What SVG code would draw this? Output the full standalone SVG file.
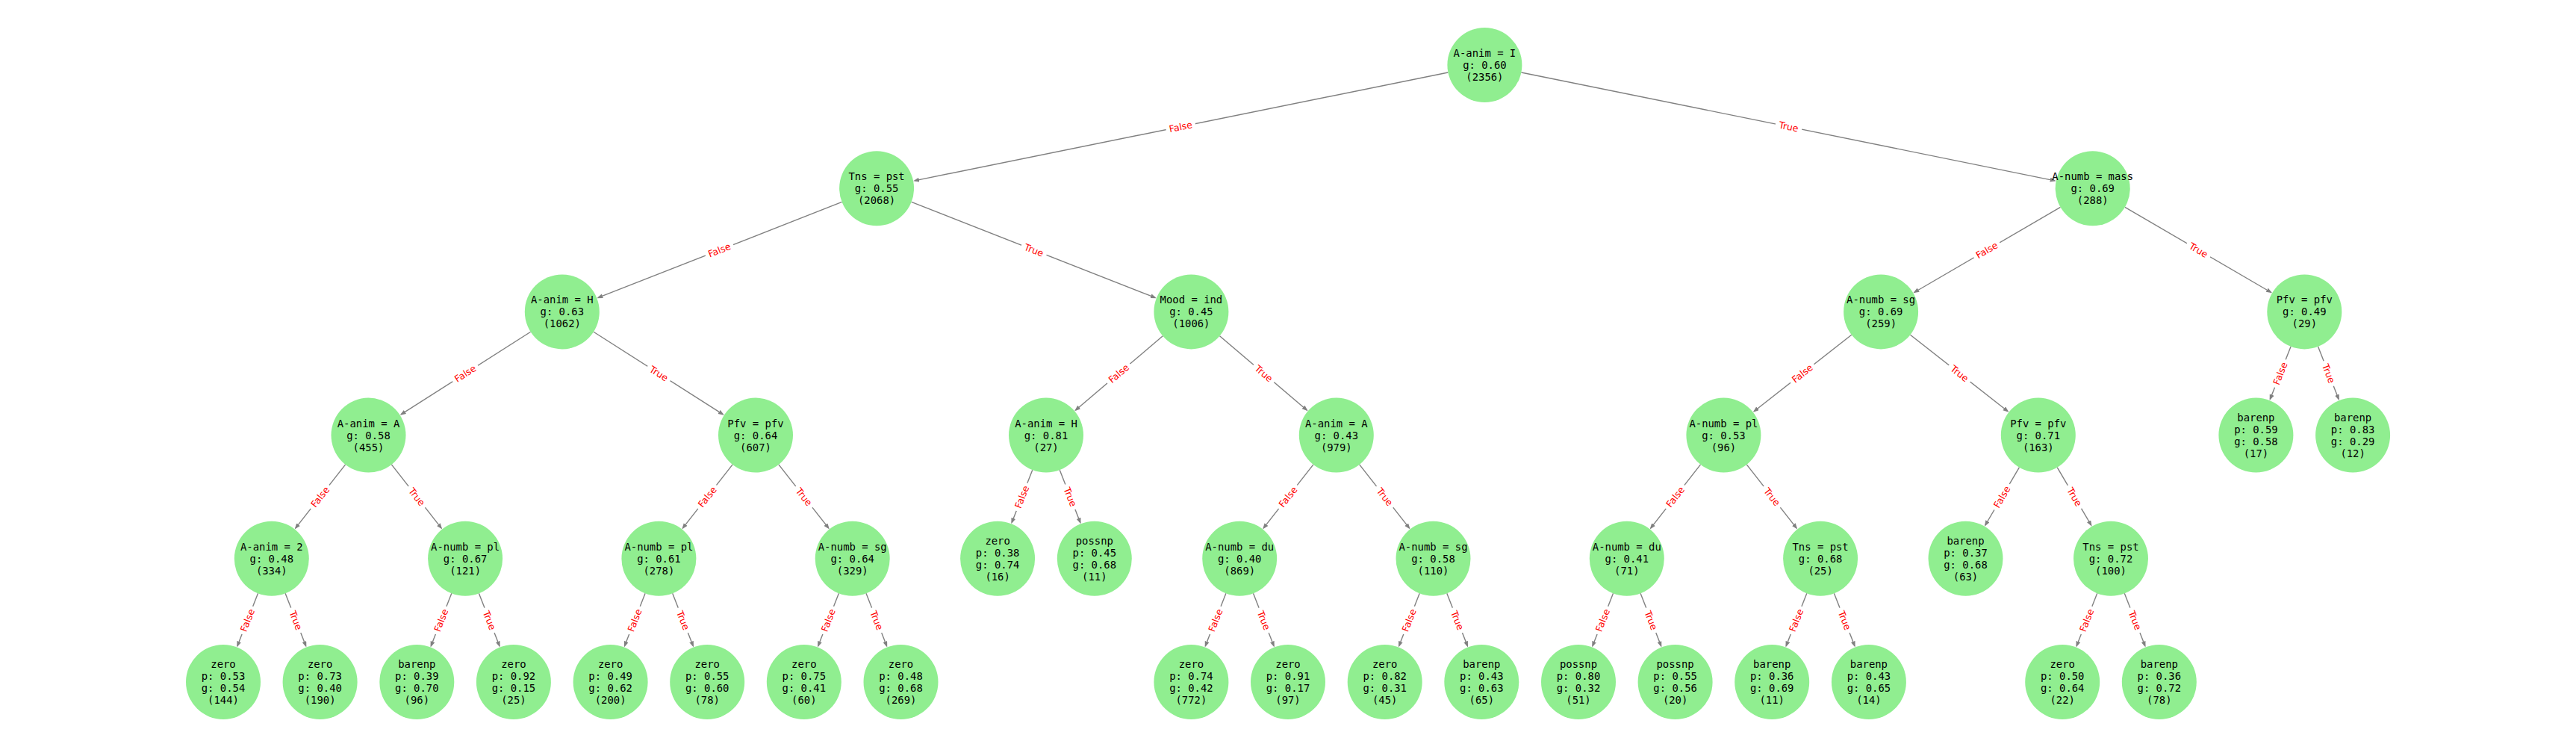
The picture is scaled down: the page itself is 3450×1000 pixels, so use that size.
<svg xmlns="http://www.w3.org/2000/svg" width="3450" height="1000" viewBox="0 0 3450 1000">
<style>
.bg{fill:#ffffff}
.node circle{fill:#90ee90}
.node text{font-family:"DejaVu Sans Mono","Liberation Mono",monospace;font-size:13.9px;fill:#000;text-anchor:middle;dominant-baseline:central}
.edge line{stroke:#808080;stroke-width:1.4;fill:none;marker-end:url(#arr)}
.lbl text{font-family:"DejaVu Sans","Liberation Sans",sans-serif;font-size:12.5px;fill:#ff0000;text-anchor:middle;dominant-baseline:central}
</style>
<defs>
<marker id="arr" markerUnits="userSpaceOnUse" markerWidth="9" markerHeight="7" refX="6" refY="3" orient="auto"><path d="M0,0 L8,3 L0,6 z" fill="#808080"/></marker>
<rect id="bf" x="-20" y="-10" width="40" height="20" rx="4" fill="#ffffff"/>
<rect id="bt" x="-18" y="-10" width="36" height="20" rx="4" fill="#ffffff"/>
</defs>
<rect class="bg" x="0" y="0" width="3450" height="1000"/>
<g id="connectors">
<g class="edge"><line x1="1939.40" y1="96.94" x2="1225.06" y2="241.86"/><g class="lbl" transform="translate(1581.25,169.6) rotate(-11.47)"><use href="#bf"/><text>False</text></g></g>
<g class="edge"><line x1="2037.40" y1="96.94" x2="2751.74" y2="241.86"/><g class="lbl" transform="translate(2395.55,169.6) rotate(11.47)"><use href="#bt"/><text>True</text></g></g>
<g class="edge"><line x1="1127.55" y1="270.45" x2="801.21" y2="398.42"/><g class="lbl" transform="translate(963.45,334.8) rotate(-21.41)"><use href="#bf"/><text>False</text></g></g>
<g class="edge"><line x1="1220.65" y1="270.45" x2="1546.99" y2="398.42"/><g class="lbl" transform="translate(1384.75,334.8) rotate(21.41)"><use href="#bt"/><text>True</text></g></g>
<g class="edge"><line x1="2759.50" y1="277.37" x2="2564.03" y2="391.23"/><g class="lbl" transform="translate(2660.9,334.8) rotate(-30.22)"><use href="#bf"/><text>False</text></g></g>
<g class="edge"><line x1="2845.90" y1="277.37" x2="3041.37" y2="391.23"/><g class="lbl" transform="translate(2944.5,334.8) rotate(30.22)"><use href="#bt"/><text>True</text></g></g>
<g class="edge"><line x1="710.63" y1="444.27" x2="537.36" y2="554.66"/><g class="lbl" transform="translate(623.15,500) rotate(-32.5)"><use href="#bf"/><text>False</text></g></g>
<g class="edge"><line x1="794.97" y1="444.27" x2="968.14" y2="554.66"/><g class="lbl" transform="translate(882.4,500) rotate(32.5)"><use href="#bt"/><text>True</text></g></g>
<g class="edge"><line x1="1557.30" y1="449.78" x2="1440.63" y2="548.93"/><g class="lbl" transform="translate(1498.2,500) rotate(-40.36)"><use href="#bf"/><text>False</text></g></g>
<g class="edge"><line x1="1633.50" y1="449.78" x2="1750.17" y2="548.93"/><g class="lbl" transform="translate(1692.6,500) rotate(40.36)"><use href="#bt"/><text>True</text></g></g>
<g class="edge"><line x1="2479.75" y1="448.25" x2="2349.32" y2="550.51"/><g class="lbl" transform="translate(2413.75,500) rotate(-38.1)"><use href="#bf"/><text>False</text></g></g>
<g class="edge"><line x1="2558.45" y1="448.25" x2="2688.88" y2="550.51"/><g class="lbl" transform="translate(2624.45,500) rotate(38.1)"><use href="#bt"/><text>True</text></g></g>
<g class="edge"><line x1="3068.03" y1="463.94" x2="3040.40" y2="534.20"/><g class="lbl" transform="translate(3053.85,500) rotate(-68.57)"><use href="#bf"/><text>False</text></g></g>
<g class="edge"><line x1="3104.57" y1="463.94" x2="3132.10" y2="534.20"/><g class="lbl" transform="translate(3118.7,500) rotate(68.57)"><use href="#bt"/><text>True</text></g></g>
<g class="edge"><line x1="462.63" y1="621.93" x2="395.90" y2="706.89"/><g class="lbl" transform="translate(428.65,665.2) rotate(-51.87)"><use href="#bf"/><text>False</text></g></g>
<g class="edge"><line x1="524.37" y1="621.93" x2="591.00" y2="706.89"/><g class="lbl" transform="translate(558.3,665.2) rotate(51.87)"><use href="#bt"/><text>True</text></g></g>
<g class="edge"><line x1="981.13" y1="621.93" x2="914.50" y2="706.89"/><g class="lbl" transform="translate(947.2,665.2) rotate(-51.87)"><use href="#bf"/><text>False</text></g></g>
<g class="edge"><line x1="1042.87" y1="621.93" x2="1109.60" y2="706.89"/><g class="lbl" transform="translate(1076.85,665.2) rotate(51.87)"><use href="#bt"/><text>True</text></g></g>
<g class="edge"><line x1="1382.73" y1="629.14" x2="1355.10" y2="699.40"/><g class="lbl" transform="translate(1368.55,665.2) rotate(-68.57)"><use href="#bf"/><text>False</text></g></g>
<g class="edge"><line x1="1419.27" y1="629.14" x2="1446.80" y2="699.40"/><g class="lbl" transform="translate(1433.4,665.2) rotate(68.57)"><use href="#bt"/><text>True</text></g></g>
<g class="edge"><line x1="1758.93" y1="621.93" x2="1692.30" y2="706.89"/><g class="lbl" transform="translate(1725.0,665.2) rotate(-51.87)"><use href="#bf"/><text>False</text></g></g>
<g class="edge"><line x1="1820.67" y1="621.93" x2="1887.40" y2="706.89"/><g class="lbl" transform="translate(1854.65,665.2) rotate(51.87)"><use href="#bt"/><text>True</text></g></g>
<g class="edge"><line x1="2277.53" y1="621.93" x2="2210.90" y2="706.89"/><g class="lbl" transform="translate(2243.6,665.2) rotate(-51.87)"><use href="#bf"/><text>False</text></g></g>
<g class="edge"><line x1="2339.27" y1="621.93" x2="2406.00" y2="706.89"/><g class="lbl" transform="translate(2373.25,665.2) rotate(51.87)"><use href="#bt"/><text>True</text></g></g>
<g class="edge"><line x1="2704.43" y1="625.69" x2="2658.88" y2="702.99"/><g class="lbl" transform="translate(2681.15,665.2) rotate(-59.52)"><use href="#bf"/><text>False</text></g></g>
<g class="edge"><line x1="2755.17" y1="625.69" x2="2800.62" y2="702.99"/><g class="lbl" transform="translate(2778.4,665.2) rotate(59.52)"><use href="#bt"/><text>True</text></g></g>
<g class="edge"><line x1="345.53" y1="794.34" x2="318.00" y2="864.60"/><g class="lbl" transform="translate(331.4,830.4) rotate(-68.57)"><use href="#bf"/><text>False</text></g></g>
<g class="edge"><line x1="382.07" y1="794.34" x2="409.60" y2="864.60"/><g class="lbl" transform="translate(396.2,830.4) rotate(68.57)"><use href="#bt"/><text>True</text></g></g>
<g class="edge"><line x1="604.83" y1="794.34" x2="577.30" y2="864.60"/><g class="lbl" transform="translate(590.7,830.4) rotate(-68.57)"><use href="#bf"/><text>False</text></g></g>
<g class="edge"><line x1="641.37" y1="794.34" x2="668.90" y2="864.60"/><g class="lbl" transform="translate(655.5,830.4) rotate(68.57)"><use href="#bt"/><text>True</text></g></g>
<g class="edge"><line x1="864.13" y1="794.34" x2="836.60" y2="864.60"/><g class="lbl" transform="translate(850.0,830.4) rotate(-68.57)"><use href="#bf"/><text>False</text></g></g>
<g class="edge"><line x1="900.67" y1="794.34" x2="928.20" y2="864.60"/><g class="lbl" transform="translate(914.8,830.4) rotate(68.57)"><use href="#bt"/><text>True</text></g></g>
<g class="edge"><line x1="1123.43" y1="794.34" x2="1095.80" y2="864.60"/><g class="lbl" transform="translate(1109.25,830.4) rotate(-68.57)"><use href="#bf"/><text>False</text></g></g>
<g class="edge"><line x1="1159.97" y1="794.34" x2="1187.50" y2="864.60"/><g class="lbl" transform="translate(1174.1,830.4) rotate(68.57)"><use href="#bt"/><text>True</text></g></g>
<g class="edge"><line x1="1641.93" y1="794.34" x2="1614.40" y2="864.60"/><g class="lbl" transform="translate(1627.8,830.4) rotate(-68.57)"><use href="#bf"/><text>False</text></g></g>
<g class="edge"><line x1="1678.47" y1="794.34" x2="1706.00" y2="864.60"/><g class="lbl" transform="translate(1692.6,830.4) rotate(68.57)"><use href="#bt"/><text>True</text></g></g>
<g class="edge"><line x1="1901.23" y1="794.34" x2="1873.70" y2="864.60"/><g class="lbl" transform="translate(1887.1,830.4) rotate(-68.57)"><use href="#bf"/><text>False</text></g></g>
<g class="edge"><line x1="1937.77" y1="794.34" x2="1965.30" y2="864.60"/><g class="lbl" transform="translate(1951.9,830.4) rotate(68.57)"><use href="#bt"/><text>True</text></g></g>
<g class="edge"><line x1="2160.53" y1="794.34" x2="2133.00" y2="864.60"/><g class="lbl" transform="translate(2146.4,830.4) rotate(-68.57)"><use href="#bf"/><text>False</text></g></g>
<g class="edge"><line x1="2197.07" y1="794.34" x2="2224.60" y2="864.60"/><g class="lbl" transform="translate(2211.2,830.4) rotate(68.57)"><use href="#bt"/><text>True</text></g></g>
<g class="edge"><line x1="2419.83" y1="794.34" x2="2392.20" y2="864.60"/><g class="lbl" transform="translate(2405.65,830.4) rotate(-68.57)"><use href="#bf"/><text>False</text></g></g>
<g class="edge"><line x1="2456.37" y1="794.34" x2="2483.90" y2="864.60"/><g class="lbl" transform="translate(2470.5,830.4) rotate(68.57)"><use href="#bt"/><text>True</text></g></g>
<g class="edge"><line x1="2808.73" y1="794.34" x2="2781.20" y2="864.60"/><g class="lbl" transform="translate(2794.6,830.4) rotate(-68.57)"><use href="#bf"/><text>False</text></g></g>
<g class="edge"><line x1="2845.27" y1="794.34" x2="2872.80" y2="864.60"/><g class="lbl" transform="translate(2859.4,830.4) rotate(68.57)"><use href="#bt"/><text>True</text></g></g>
</g>
<g id="nodes">
<g id="n0" class="node" transform="translate(1988.4,87)"><circle r="50"/><text y="-16">A-anim = I</text><text y="0">g: 0.60</text><text y="16">(2356)</text></g>
<g id="n1" class="node" transform="translate(1174.1,252.2)"><circle r="50"/><text y="-16">Tns = pst</text><text y="0">g: 0.55</text><text y="16">(2068)</text></g>
<g id="n2" class="node" transform="translate(2802.7,252.2)"><circle r="50"/><text y="-16">A-numb = mass</text><text y="0">g: 0.69</text><text y="16">(288)</text></g>
<g id="n3" class="node" transform="translate(752.8,417.4)"><circle r="50"/><text y="-16">A-anim = H</text><text y="0">g: 0.63</text><text y="16">(1062)</text></g>
<g id="n4" class="node" transform="translate(1595.4,417.4)"><circle r="50"/><text y="-16">Mood = ind</text><text y="0">g: 0.45</text><text y="16">(1006)</text></g>
<g id="n5" class="node" transform="translate(2519.1,417.4)"><circle r="50"/><text y="-16">A-numb = sg</text><text y="0">g: 0.69</text><text y="16">(259)</text></g>
<g id="n6" class="node" transform="translate(3086.3,417.4)"><circle r="50"/><text y="-16">Pfv = pfv</text><text y="0">g: 0.49</text><text y="16">(29)</text></g>
<g id="n7" class="node" transform="translate(493.5,582.6)"><circle r="50"/><text y="-16">A-anim = A</text><text y="0">g: 0.58</text><text y="16">(455)</text></g>
<g id="n8" class="node" transform="translate(1012.0,582.6)"><circle r="50"/><text y="-16">Pfv = pfv</text><text y="0">g: 0.64</text><text y="16">(607)</text></g>
<g id="n9" class="node" transform="translate(1401.0,582.6)"><circle r="50"/><text y="-16">A-anim = H</text><text y="0">g: 0.81</text><text y="16">(27)</text></g>
<g id="n10" class="node" transform="translate(1789.8,582.6)"><circle r="50"/><text y="-16">A-anim = A</text><text y="0">g: 0.43</text><text y="16">(979)</text></g>
<g id="n11" class="node" transform="translate(2308.4,582.6)"><circle r="50"/><text y="-16">A-numb = pl</text><text y="0">g: 0.53</text><text y="16">(96)</text></g>
<g id="n12" class="node" transform="translate(2729.8,582.6)"><circle r="50"/><text y="-16">Pfv = pfv</text><text y="0">g: 0.71</text><text y="16">(163)</text></g>
<g id="n13" class="node" transform="translate(3021.4,582.6)"><circle r="50"/><text y="-24">barenp</text><text y="-8">p: 0.59</text><text y="8">g: 0.58</text><text y="24">(17)</text></g>
<g id="n14" class="node" transform="translate(3151.1,582.6)"><circle r="50"/><text y="-24">barenp</text><text y="-8">p: 0.83</text><text y="8">g: 0.29</text><text y="24">(12)</text></g>
<g id="n15" class="node" transform="translate(363.8,747.8)"><circle r="50"/><text y="-16">A-anim = 2</text><text y="0">g: 0.48</text><text y="16">(334)</text></g>
<g id="n16" class="node" transform="translate(623.1,747.8)"><circle r="50"/><text y="-16">A-numb = pl</text><text y="0">g: 0.67</text><text y="16">(121)</text></g>
<g id="n17" class="node" transform="translate(882.4,747.8)"><circle r="50"/><text y="-16">A-numb = pl</text><text y="0">g: 0.61</text><text y="16">(278)</text></g>
<g id="n18" class="node" transform="translate(1141.7,747.8)"><circle r="50"/><text y="-16">A-numb = sg</text><text y="0">g: 0.64</text><text y="16">(329)</text></g>
<g id="n19" class="node" transform="translate(1336.1,747.8)"><circle r="50"/><text y="-24">zero</text><text y="-8">p: 0.38</text><text y="8">g: 0.74</text><text y="24">(16)</text></g>
<g id="n20" class="node" transform="translate(1465.8,747.8)"><circle r="50"/><text y="-24">possnp</text><text y="-8">p: 0.45</text><text y="8">g: 0.68</text><text y="24">(11)</text></g>
<g id="n21" class="node" transform="translate(1660.2,747.8)"><circle r="50"/><text y="-16">A-numb = du</text><text y="0">g: 0.40</text><text y="16">(869)</text></g>
<g id="n22" class="node" transform="translate(1919.5,747.8)"><circle r="50"/><text y="-16">A-numb = sg</text><text y="0">g: 0.58</text><text y="16">(110)</text></g>
<g id="n23" class="node" transform="translate(2178.8,747.8)"><circle r="50"/><text y="-16">A-numb = du</text><text y="0">g: 0.41</text><text y="16">(71)</text></g>
<g id="n24" class="node" transform="translate(2438.1,747.8)"><circle r="50"/><text y="-16">Tns = pst</text><text y="0">g: 0.68</text><text y="16">(25)</text></g>
<g id="n25" class="node" transform="translate(2632.5,747.8)"><circle r="50"/><text y="-24">barenp</text><text y="-8">p: 0.37</text><text y="8">g: 0.68</text><text y="24">(63)</text></g>
<g id="n26" class="node" transform="translate(2827.0,747.8)"><circle r="50"/><text y="-16">Tns = pst</text><text y="0">g: 0.72</text><text y="16">(100)</text></g>
<g id="n27" class="node" transform="translate(299.0,913)"><circle r="50"/><text y="-24">zero</text><text y="-8">p: 0.53</text><text y="8">g: 0.54</text><text y="24">(144)</text></g>
<g id="n28" class="node" transform="translate(428.6,913)"><circle r="50"/><text y="-24">zero</text><text y="-8">p: 0.73</text><text y="8">g: 0.40</text><text y="24">(190)</text></g>
<g id="n29" class="node" transform="translate(558.3,913)"><circle r="50"/><text y="-24">barenp</text><text y="-8">p: 0.39</text><text y="8">g: 0.70</text><text y="24">(96)</text></g>
<g id="n30" class="node" transform="translate(687.9,913)"><circle r="50"/><text y="-24">zero</text><text y="-8">p: 0.92</text><text y="8">g: 0.15</text><text y="24">(25)</text></g>
<g id="n31" class="node" transform="translate(817.6,913)"><circle r="50"/><text y="-24">zero</text><text y="-8">p: 0.49</text><text y="8">g: 0.62</text><text y="24">(200)</text></g>
<g id="n32" class="node" transform="translate(947.2,913)"><circle r="50"/><text y="-24">zero</text><text y="-8">p: 0.55</text><text y="8">g: 0.60</text><text y="24">(78)</text></g>
<g id="n33" class="node" transform="translate(1076.8,913)"><circle r="50"/><text y="-24">zero</text><text y="-8">p: 0.75</text><text y="8">g: 0.41</text><text y="24">(60)</text></g>
<g id="n34" class="node" transform="translate(1206.5,913)"><circle r="50"/><text y="-24">zero</text><text y="-8">p: 0.48</text><text y="8">g: 0.68</text><text y="24">(269)</text></g>
<g id="n35" class="node" transform="translate(1595.4,913)"><circle r="50"/><text y="-24">zero</text><text y="-8">p: 0.74</text><text y="8">g: 0.42</text><text y="24">(772)</text></g>
<g id="n36" class="node" transform="translate(1725.0,913)"><circle r="50"/><text y="-24">zero</text><text y="-8">p: 0.91</text><text y="8">g: 0.17</text><text y="24">(97)</text></g>
<g id="n37" class="node" transform="translate(1854.7,913)"><circle r="50"/><text y="-24">zero</text><text y="-8">p: 0.82</text><text y="8">g: 0.31</text><text y="24">(45)</text></g>
<g id="n38" class="node" transform="translate(1984.3,913)"><circle r="50"/><text y="-24">barenp</text><text y="-8">p: 0.43</text><text y="8">g: 0.63</text><text y="24">(65)</text></g>
<g id="n39" class="node" transform="translate(2114.0,913)"><circle r="50"/><text y="-24">possnp</text><text y="-8">p: 0.80</text><text y="8">g: 0.32</text><text y="24">(51)</text></g>
<g id="n40" class="node" transform="translate(2243.6,913)"><circle r="50"/><text y="-24">possnp</text><text y="-8">p: 0.55</text><text y="8">g: 0.56</text><text y="24">(20)</text></g>
<g id="n41" class="node" transform="translate(2373.2,913)"><circle r="50"/><text y="-24">barenp</text><text y="-8">p: 0.36</text><text y="8">g: 0.69</text><text y="24">(11)</text></g>
<g id="n42" class="node" transform="translate(2502.9,913)"><circle r="50"/><text y="-24">barenp</text><text y="-8">p: 0.43</text><text y="8">g: 0.65</text><text y="24">(14)</text></g>
<g id="n43" class="node" transform="translate(2762.2,913)"><circle r="50"/><text y="-24">zero</text><text y="-8">p: 0.50</text><text y="8">g: 0.64</text><text y="24">(22)</text></g>
<g id="n44" class="node" transform="translate(2891.8,913)"><circle r="50"/><text y="-24">barenp</text><text y="-8">p: 0.36</text><text y="8">g: 0.72</text><text y="24">(78)</text></g>
</g>
</svg>
